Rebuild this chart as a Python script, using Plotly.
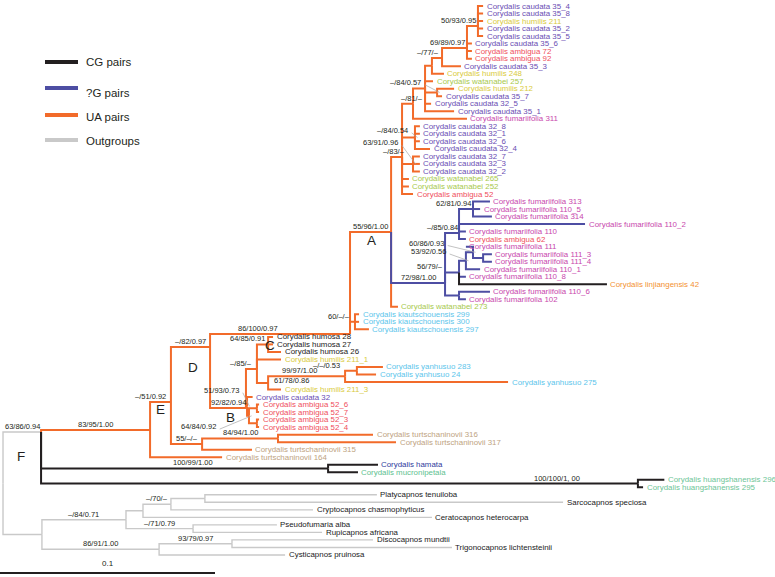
import plotly.graph_objects as go

# ---------------- data ----------------
tip_names = [
    "Corydalis caudata 35_4", "Corydalis caudata 35_8", "Corydalis humilis 211", "Corydalis caudata 35_2",
    "Corydalis caudata 35_5", "Corydalis caudata 35_6", "Corydalis ambigua 72", "Corydalis ambigua 92",
    "Corydalis caudata 35_3", "Corydalis humilis 248", "Corydalis watanabei 257", "Corydalis humilis 212",
    "Corydalis caudata 35_7", "Corydalis caudata 32_5", "Corydalis caudata 35_1", "Corydalis fumariifolia 311",
    "Corydalis caudata 32_8", "Corydalis caudata 32_1", "Corydalis caudata 32_6", "Corydalis caudata 32_4",
    "Corydalis caudata 32_7", "Corydalis caudata 32_3", "Corydalis caudata 32_2", "Corydalis watanabei 265",
    "Corydalis watanabei 252", "Corydalis ambigua 52", "Corydalis fumariifolia 313", "Corydalis fumariifolia 110_5",
    "Corydalis fumariifolia 314", "Corydalis fumariifolia 110_2", "Corydalis fumariifolia 110", "Corydalis ambigua 62",
    "Corydalis fumariifolia 111", "Corydalis fumariifolia 111_3", "Corydalis fumariifolia 111_4", "Corydalis fumariifolia 110_1",
    "Corydalis fumariifolia 110_8", "Corydalis linjiangensis 42", "Corydalis fumariifolia 110_6", "Corydalis fumariifolia 102",
    "Corydalis watanabei 273", "Corydalis kiautschouensis 299", "Corydalis kiautschouensis 300", "Corydalis kiautschouensis 297",
    "Corydalis humosa 28", "Corydalis humosa 27", "Corydalis humosa 26", "Corydalis humilis 211_1",
    "Corydalis yanhusuo 283", "Corydalis yanhusuo 24", "Corydalis yanhusuo 275", "Corydalis humilis 211_3",
    "Corydalis caudata 32", "Corydalis ambigua 52_6", "Corydalis ambigua 52_7", "Corydalis ambigua 52_3",
    "Corydalis ambigua 52_4", "Corydalis turtschaninovii 316", "Corydalis turtschaninovii 317", "Corydalis turtschaninovii 315",
    "Corydalis turtschaninovii 164", "Corydalis hamata", "Corydalis mucronipetala", "Corydalis huangshanensis 296",
    "Corydalis huangshanensis 295", "Platycapnos tenuiloba", "Sarcocapnos speciosa", "Cryptocapnos chasmophyticus",
    "Ceratocapnos heterocarpa", "Pseudofumaria alba", "Rupicapnos africana", "Discocapnos mundtii",
    "Trigonocapnos lichtensteinii", "Cysticapnos pruinosa",
]
tip_parent = [
    "N50", "N50", "N50", "N50", "N50", "N69", "N69", "N69", "N77", "P432",
    "M425", "Q", "Q", "M425", "M425", "N81", "N84b", "N84b", "N84b", "N84b",
    "N63", "N63", "N63", "N83", "N83", "N83", "N62", "N62", "N62", "N85",
    "N85", "N85", "N60", "N111", "N111", "N53", "N56", "N56", "N106", "N106",
    "A", "XK", "XK", "XK", "X268", "X268", "X268", "X257", "X357", "X357",
    "X345", "X268b", "X249", "XB1", "XB1", "XB2", "XB2", "X278", "X278", "X202",
    "E", "HM", "HM", "HS", "HS", "N205", "N205", "N70o", "N84a", "N71o",
    "N71o", "N93o", "N93o", "N86o",
]
# tip depth (root-to-tip distance, 0.001 substitutions/site)
tip_depth = [
    224.7, 224.7, 224.7, 224.7, 224.7, 219.5, 219.5, 219.5, 214.4, 206.5,
    201.4, 211.2, 205.6, 200.5, 211.2, 217.2, 195.3, 195.3, 195.3, 200.0,
    195.3, 195.3, 195.3, 190.2, 190.2, 192.1, 227.9, 223.3, 228.8, 272.1,
    216.7, 216.7, 216.7, 228.8, 228.8, 223.3, 216.7, 282.3, 227.9, 216.7,
    185.1, 167.0, 167.0, 171.6, 127.0, 127.0, 130.7, 130.7, 178.1, 174.9,
    236.3, 130.7, 117.5, 120.5, 120.5, 120.5, 120.5, 173.5, 184.2, 117.2,
    103.3, 175.8, 166.5, 309.0, 299.1, 175.3, 261.9, 145.6, 200.9, 128.8,
    149.8, 173.5, 210.2, 132.6,
]
tip_class = ["UA"] * 26 + ["?G"] * 11 + ["CG"] + ["?G"] * 2 + ["UA"] * 21 + ["CG"] * 4 + ["OG"] * 9

node_ids = ["R", "F", "OG", "N84o", "N84a", "N70o", "N205", "N71o", "N86o", "N93o",
            "E", "HM", "HS", "X171", "X202", "X278", "D", "C", "XK", "A",
            "N83", "N81", "M425", "P432", "N77", "N69", "N50", "Q", "N84b", "N63",
            "XBL", "N85", "N62", "N56", "N53", "N60", "N111", "N106",
            "X247", "X257", "X268", "X268b", "X345", "X357", "X249", "XB", "XB1", "XB2"]
node_parent = [None, "R", "R", "OG", "N84o", "N84a", "N70o", "N84o", "OG", "N86o",
               "F", "F", "F", "E", "X171", "X202", "X171", "D", "C", "C",
               "A", "N83", "N81", "M425", "P432", "N77", "N69", "M425", "N83", "N83",
               "A", "XBL", "N85", "XBL", "N56", "N53", "N60", "XBL",
               "D", "X247", "X257", "X257", "X268b", "X345", "X247", "X249", "XB", "XB"]
node_depth = [1.4, 19.1, 19.5, 58.6, 66.5, 79.5, 95.3, 89.8, 74.0, 107.9,
              69.8, 152.6, 296.7, 79.5, 94.0, 129.3, 97.7, 162.8, 165.1, 181.9,
              187.0, 192.1, 197.7, 200.9, 205.6, 217.2, 222.3, 203.3, 193.0, 192.1,
              207.0, 213.5, 220.0, 213.5, 216.7, 220.0, 224.7, 213.5,
              114.4, 119.5, 124.7, 124.7, 160.5, 166.0, 114.9, 115.8, 119.5, 119.5]
node_support = ["", "63/86/0.94", "", "–/84/0.71", "", "–/70/–", "", "–/71/0.79", "86/91/1.00", "93/79/0.97",
                "83/95/1.00", "100/99/1.00", "100/100/1, 00", "–/51/0.92", "55/–/–", "84/94/1.00", "–/82/0.97", "86/100/0.97", "60/–/–", "55/96/1.00",
                "–/83/–", "–/81/–", "", "", "–/77/–", "69/89/0.97", "50/93/0.95", "–/84/0.57", "–/84/0.54", "63/91/0.96",
                "72/98/1.00", "–/85/0.84", "62/81/0.94", "56/79/–", "53/92/0.56", "60/86/0.93", "", "",
                "92/82/0.94", "–/85/–", "64/85/0.91", "61/78/0.86", "99/97/1.00", "–/–/0.53", "51/93/0.73", "64/84/0.92", "", ""]
node_class = ["OG", "OG", "OG", "OG", "OG", "OG", "OG", "OG", "OG", "OG",
              "UA", "CG", "CG", "UA", "UA", "UA", "UA", "UA", "UA", "UA",
              "UA", "UA", "UA", "UA", "UA", "UA", "UA", "UA", "UA", "UA",
              "?G", "?G", "?G", "?G", "?G", "?G", "?G", "?G",
              "UA", "UA", "UA", "UA", "UA", "UA", "UA", "UA", "UA", "UA"]

clade_letters = ["A", "B", "C", "D", "E", "F"]

legend_labels = ["CG pairs", "?G pairs", "UA pairs", "Outgroups"]
legend_classes = ["CG", "?G", "UA", "OG"]

scale_value = 0.1

# ---------------- styles / layout ----------------
W, H = 775, 577
PXU = 2.15          # px per 0.001 subs/site
ROW0, ROWH = 6.0, 7.52
FONT = "Liberation Sans, Arial, Helvetica, sans-serif"
class_color = {"CG": "#231f20", "?G": "#4d4ea3", "UA": "#f26b2a", "OG": "#c9c9c9"}
class_width = {"CG": 2.0, "?G": 2.0, "UA": 2.0, "OG": 1.4}
species_color = {
    "caudata": "#6a4db3", "humilis": "#d9cb3b", "ambigua": "#ef4f5c", "watanabei": "#a7c94c",
    "fumariifolia": "#c847ad", "linjiangensis": "#f39131", "kiautschouensis": "#5cc5eb",
    "yanhusuo": "#5cc5eb", "humosa": "#1a1a1a", "turtschaninovii": "#bea381", "hamata": "#2e3b9c",
    "mucronipetala": "#5ebf8f", "huangshanensis": "#6dc597",
}
TIP_FS, SUP_FS = 7.9, 7.5
# drawn junction heights (px from top) where the figure departs from midpoint placement
junction_px = {"F": 432, "E": 430, "X171": 402, "D": 347, "C": 334, "X247": 408,
               "XBL": 283, "N85": 233, "N83": 157, "N50": 26, "N69": 48, "N77": 58, "X257": 369}
# support-label tweaks: horizontal shift (px) of branch-centred labels
label_shift = {"HS": (218, 0), "X171": (-10, 0), "C": (-22, 0), "X268": (-15, 0), "X257": (-10, 0),
               "X357": (-24, 0), "N62": (-13, 0), "N85": (-10, 0), "N50": (-14, 0), "N69": (-7, 0),
               "N77": (-9, 0), "N81": (4, 0), "N56": (-22, 0), "XK": (-13, 0), "N83": (-3, 0),
               "X345": (-7, 0), "HM": (8, 0)}
# labels placed off the branch with a thin leader line: right end offset (px) from node
leader = {"N63": (-13, -21), "N84b": (-5, -7), "Q": (-14, -10), "N60": (-27, -9), "N53": (-18, -9),
          "X249": (-6, -16), "XB": (-31, 11)}
# labels placed to the right of their node (px offset of left edge)
beside = {"X268b": (4, -2)}
letter_pos = {"A": (371, 240), "B": (231, 417), "C": (270, 345), "D": (193, 367), "E": (160, 409), "F": (21, 456)}

# ---------------- tree geometry ----------------
idx = {n: i for i, n in enumerate(node_ids)}
children = {n: [] for n in node_ids}
for i, p in enumerate(tip_parent):
    children[p].append(("t", i))
for n, p in zip(node_ids, node_parent):
    if p is not None:
        children[p].append(("n", n))

ycache = {}


def item_y(item):
    kind, k = item
    return float(k) if kind == "t" else node_y(k)


def node_y(n):
    if n not in ycache:
        if n in junction_px:
            ycache[n] = (junction_px[n] - ROW0) / ROWH
        else:
            ys = [item_y(c) for c in children[n]]
            ycache[n] = (min(ys) + max(ys)) / 2.0
    return ycache[n]


segs = {c: ([], []) for c in class_color}


def add_elbow(cls, xp, yp, x, y):
    xs, ys = segs[cls]
    xs += [xp, xp, x, None]
    ys += [yp, y, y, None]


for n in node_ids:
    i = idx[n]
    p = node_parent[i]
    if p is not None:
        add_elbow(node_class[i], node_depth[idx[p]], node_y(p), node_depth[i], node_y(n))
for t in range(len(tip_names)):
    p = tip_parent[t]
    add_elbow(tip_class[t], node_depth[idx[p]], node_y(p), tip_depth[t], t)

fig = go.Figure()
for cls in ["OG", "UA", "?G", "CG"]:
    xs, ys = segs[cls]
    fig.add_trace(go.Scatter(x=xs, y=ys, mode="lines", hoverinfo="skip",
                             line=dict(color=class_color[cls], width=class_width[cls])))

ann = []
shapes = []
# tip labels
for t, name in enumerate(tip_names):
    sp = name.split()[1] if name.startswith("Corydalis") else None
    col = species_color.get(sp, "#1a1a1a")
    ann.append(dict(x=tip_depth[t], y=t, text=name, xanchor="left", yanchor="middle", xshift=1.5,
                    showarrow=False, font=dict(family=FONT, size=TIP_FS, color=col)))

# support values
for n in node_ids:
    i = idx[n]
    s = node_support[i]
    if not s:
        continue
    p = node_parent[i]
    x0 = node_depth[idx[p]]
    x1 = node_depth[i]
    y = node_y(n)
    f = dict(family=FONT, size=SUP_FS, color="#231f20")
    if n in leader:
        dx, dy = leader[n]
        lx = x1 + dx / PXU
        ly = y + dy / ROWH
        ann.append(dict(x=lx, y=ly, text=s, xanchor="right", yanchor="middle", showarrow=False, font=f))
        shapes.append(dict(type="line", x0=lx + 0.8, y0=ly + 0.3, x1=x1 + 1.2, y1=y,
                           line=dict(color="#a8a8a8", width=0.7)))
    elif n in beside:
        dx, dy = beside[n]
        ann.append(dict(x=x1, y=y, text=s, xanchor="left", yanchor="middle", xshift=dx, yshift=-dy,
                        showarrow=False, font=f))
    else:
        dx, dy = label_shift.get(n, (0, 0))
        ann.append(dict(x=(x0 + x1) / 2, y=y, text=s, xanchor="center", yanchor="bottom",
                        xshift=dx, yshift=dy - 1, showarrow=False, font=f))

# clade letters
for L in clade_letters:
    px, py = letter_pos[L]
    ann.append(dict(x=px / W, y=1 - py / H, xref="paper", yref="paper", text=L, showarrow=False,
                    xanchor="center", yanchor="middle", font=dict(family=FONT, size=13.5, color="#231f20")))

# legend
leg_line_y = [62, 88, 115, 140]
leg_text_y = [62, 93, 117, 141]
for lab, cls, ly, ty in zip(legend_labels, legend_classes, leg_line_y, leg_text_y):
    shapes.append(dict(type="line", xref="paper", yref="paper", x0=45 / W, x1=78 / W,
                       y0=1 - ly / H, y1=1 - ly / H, line=dict(color=class_color[cls], width=4)))
    ann.append(dict(x=84 / W, y=1 - ty / H, xref="paper", yref="paper", text=lab, showarrow=False,
                    xanchor="left", yanchor="middle", font=dict(family=FONT, size=11.5, color="#231f20")))

# scale bar
bar_y = (573 - ROW0) / ROWH
shapes.append(dict(type="line", x0=0, x1=scale_value * 1000, y0=bar_y, y1=bar_y,
                   line=dict(color="#231f20", width=2.2)))
ann.append(dict(x=scale_value * 1000 / 2, y=bar_y, text=str(scale_value), showarrow=False, yanchor="bottom",
                yshift=3, font=dict(family=FONT, size=8, color="#231f20")))

fig.update_layout(
    width=W, height=H, margin=dict(l=0, r=0, t=0, b=0),
    paper_bgcolor="white", plot_bgcolor="white", showlegend=False,
    xaxis=dict(range=[0, W / PXU], visible=False, fixedrange=True),
    yaxis=dict(range=[(H - ROW0) / ROWH, -ROW0 / ROWH], visible=False, fixedrange=True),
    annotations=ann, shapes=shapes,
)
fig.write_html("out.html", config={"displayModeBar": False},
               post_script="document.body.style.margin='0px';document.body.style.overflow='hidden';")
